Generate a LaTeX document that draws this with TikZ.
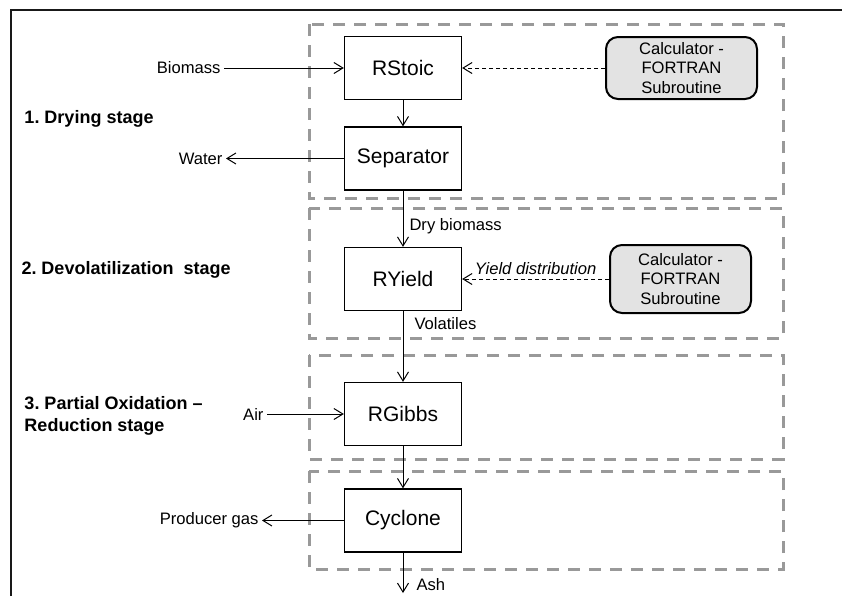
\documentclass[tikz,border=0pt]{standalone}
\usepackage{fontspec}
\setmainfont{Liberation Sans}
\usetikzlibrary{arrows.meta, positioning}
\frenchspacing

\begin{document}
\begin{tikzpicture}[x=0.5pt, y=-0.5pt, line width=0.5pt,
    >={Straight Barb[length=4.5pt, width=5.5pt]},
    blk/.style={draw, line width=0.65pt, minimum width=58.5pt, minimum height=31.5pt,
      font=\fontsize{10.5}{12}\selectfont},
    calc/.style={draw, line width=1pt, rounded corners=6pt, fill=black!11, align=center,
      inner ysep=1pt, minimum width=75.5pt, minimum height=31pt,
      font=\fontsize{8.3}{9.75}\selectfont},
    lbl/.style={inner sep=1.5pt, font=\fontsize{8.3}{10}\selectfont},
    stage/.style={inner sep=0pt, anchor=west, align=left,
      font=\fontsize{9}{11}\selectfont\bfseries},
    stagebox/.style={draw=black!40, line width=1.5pt, dash pattern=on 6pt off 4.5pt},
    ctrl/.style={dash pattern=on 2pt off 1.5pt}]
    \useasboundingbox (0,0) rectangle (842,596);
    \draw[line width=1pt, black!90] (11,596) -- (11,10) -- (842,10);

    \draw[stagebox] (309,24) rectangle (783,198);
    \draw[stagebox] (309,208) rectangle (783,338);
    \draw[stagebox] (309,355) rectangle (783,459);
    \draw[stagebox] (309,471) rectangle (783,569);

    \node[stage] (st1) at (24,119) {1. Drying stage};
    \node[stage] (st2) at (21,270) {2. Devolatilization\ \ stage};
    \node[stage] (st3) at (24,416) {3. Partial Oxidation –\\Reduction stage};

    \node[blk] (rstoic) at (403,68)    {RStoic};
    \node[blk] (sep)    at (403,158.5) {Separator};
    \node[blk] (ryield) at (403,279)   {RYield};
    \node[blk] (rgibbs) at (403,414)   {RGibbs};
    \node[blk] (cyc)    at (403,520.5) {Cyclone};

    \node[calc] (calc1) at (681.5,68) {Calculator -\\FORTRAN\\Subroutine};
    \node[calc, minimum width=70.5pt, minimum height=34pt] (calc2) at (680.5,279)
      {Calculator -\\FORTRAN\\Subroutine};

    \node[lbl, anchor=east] (bio)   at (224,68)    {Biomass};
    \node[lbl, anchor=east] (water) at (226,158.5) {Water};
    \node[lbl, anchor=east] (air)   at (267,414)   {Air};
    \node[lbl, anchor=east] (gas)   at (262,520.5) {Producer gas};
    \node[lbl, anchor=west] (ash)   at (413,585)   {Ash};
    \coordinate (ashend) at (403,593);

    \draw[->] (bio.east) -- (rstoic.west);
    \draw[->, ctrl] (calc1.west) -- (rstoic.east);
    \draw[->] (rstoic) -- (sep);
    \draw[->] (sep.west) -- (water.east);
    \draw[->] (sep) -- node[lbl, pos=0.64, right=1.5pt] (dry) {Dry biomass} (ryield);
    \draw[->, ctrl] (calc2.west) -- node[lbl, above=0.5pt, font=\fontsize{8.3}{10}\selectfont\itshape] (yd)
      {Yield distribution} (ryield.east);
    \draw[->] (ryield) -- node[lbl, pos=0.18, right=4pt] (vol) {Volatiles} (rgibbs);
    \draw[->] (air.east) -- (rgibbs.west);
    \draw[->] (rgibbs) -- (cyc);
    \draw[->] (cyc.west) -- (gas.east);
    \draw[->] (cyc) -- (ashend);
  \end{tikzpicture}
\end{document}
